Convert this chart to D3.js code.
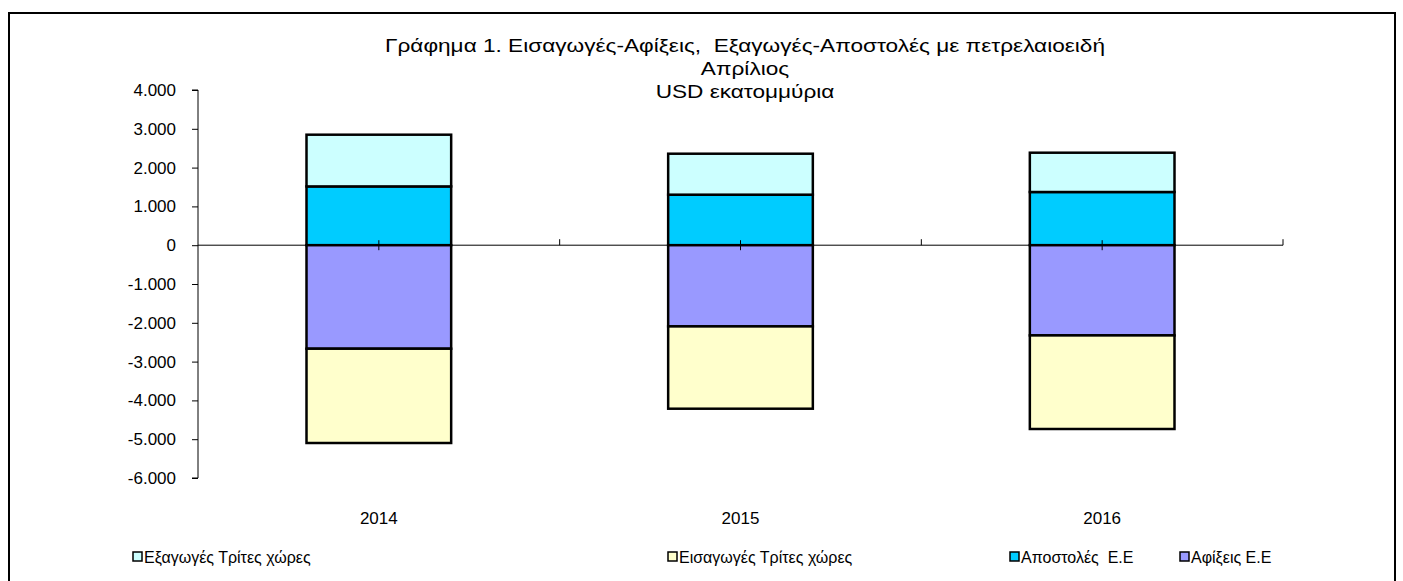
<!DOCTYPE html>
<html>
<head>
<meta charset="utf-8">
<script src="https://cdn.jsdelivr.net/npm/d3@7"></script>
<style>
  body { margin: 0; background: #fff; }
  text { font-family: "Liberation Sans", Arial, sans-serif; fill: #000; white-space: pre; }
</style>
</head>
<body>
<div id="chart"></div>
<script>
var svgWidth = 1403;
var svgHeight = 581;

// data (USD millions)
var years = ["2014", "2015", "2016"];
var exportsThird = [1333, 1056, 1013];   // Εξαγωγές Τρίτες χώρες
var importsThird = [-2430, -2121, -2412]; // Εισαγωγές Τρίτες χώρες
var dispatchesEU = [1515, 1302, 1371];   // Αποστολές Ε.Ε
var arrivalsEU = [-2668, -2093, -2325];  // Αφίξεις Ε.Ε
var yTicks = [4000, 3000, 2000, 1000, 0, -1000, -2000, -3000, -4000, -5000, -6000];
var titleLines = ["Γράφημα 1. Εισαγωγές-Αφίξεις,  Εξαγωγές-Αποστολές με πετρελαιοειδή", "Απρίλιος", "USD εκατομμύρια"];

var series = [
  { name: "Εξαγωγές Τρίτες χώρες", values: exportsThird, color: "#CCFFFF" },
  { name: "Εισαγωγές Τρίτες χώρες", values: importsThird, color: "#FFFFCC" },
  { name: "Αποστολές  Ε.Ε", values: dispatchesEU, color: "#00CCFF" },
  { name: "Αφίξεις Ε.Ε", values: arrivalsEU, color: "#9999FF" }
];

var plot = { left: 198, right: 1283, top: 90, bottom: 478 };

var svg = d3.select("#chart")
  .append("svg")
  .attr("width", svgWidth)
  .attr("height", svgHeight);

// outer frame
svg.append("path")
  .attr("d", "M9,590 L9,13 L1395,13 L1395,590")
  .attr("fill", "none")
  .attr("stroke", "#000")
  .attr("stroke-width", 2);

// title (text in the original is a bit wide, so stretch it horizontally)
svg.append("g").selectAll("text")
  .data(titleLines).enter()
  .append("text")
  .attr("transform", (d, i) => `translate(745,${52 + i * 23}) scale(1.19,1)`)
  .attr("text-anchor", "middle")
  .style("font-size", "19px")
  .text(d => d);

var x = d3.scaleBand()
  .domain(years)
  .range([plot.left, plot.right])
  .paddingInner(0.6)
  .paddingOuter(0.3);

var y = d3.scaleLinear()
  .domain([-6000, 4000])
  .range([plot.bottom, plot.top]);

// stack: positives from zero upward, negatives from zero downward
var stackOrder = [dispatchesEU, exportsThird, arrivalsEU, importsThird];
var colorOf = new Map(series.map(s => [s.values, s.color]));
var segs = [];
years.forEach(function(yr, i) {
  var pos = 0, neg = 0;
  stackOrder.forEach(function(vals) {
    var v = vals[i];
    if (v >= 0) { segs.push({ yr: yr, y0: pos, y1: pos + v, color: colorOf.get(vals) }); pos += v; }
    else { segs.push({ yr: yr, y0: neg, y1: neg + v, color: colorOf.get(vals) }); neg += v; }
  });
});

svg.append("g").selectAll("rect")
  .data(segs).enter()
  .append("rect")
  .attr("x", d => x(d.yr))
  .attr("width", x.bandwidth())
  .attr("y", d => y(Math.max(d.y0, d.y1)))
  .attr("height", d => Math.abs(y(d.y0) - y(d.y1)))
  .attr("fill", d => d.color)
  .attr("stroke", "#000")
  .attr("stroke-width", 2.5);

// y axis
var yAxis = svg.append("g")
  .attr("transform", `translate(${plot.left},0)`)
  .call(d3.axisLeft(y).tickValues(yTicks).tickSize(6).tickPadding(16)
    .tickFormat(d => d3.format(",")(d).replace(/,/g, ".").replace("−", "-")));
yAxis.select(".domain").attr("stroke", "#000").attr("d", `M-6,${plot.top}H0V${plot.bottom}H-6`);
yAxis.selectAll("text").style("font-size", "17px").style("font-family", "'Liberation Sans', Arial, sans-serif").attr("fill", "#000");

// x axis along zero
var band = (plot.right - plot.left) / years.length;
var xg = svg.append("g");
xg.append("line")
  .attr("x1", plot.left).attr("x2", plot.right)
  .attr("y1", y(0)).attr("y2", y(0))
  .attr("stroke", "#000");
xg.selectAll(".bt")
  .data(d3.range(1, years.length + 1)).enter()
  .append("line")
  .attr("x1", d => plot.left + d * band).attr("x2", d => plot.left + d * band)
  .attr("y1", y(0) - 6).attr("y2", y(0))
  .attr("stroke", "#000");
xg.selectAll(".ct")
  .data(years).enter()
  .append("line")
  .attr("x1", d => x(d) + x.bandwidth() / 2).attr("x2", d => x(d) + x.bandwidth() / 2)
  .attr("y1", y(0) - 5).attr("y2", y(0) + 5)
  .attr("stroke", "#000");

// category labels
svg.append("g").selectAll("text")
  .data(years).enter()
  .append("text")
  .attr("x", d => x(d) + x.bandwidth() / 2)
  .attr("y", 524)
  .attr("text-anchor", "middle")
  .style("font-size", "17px")
  .text(d => d);

// legend
var legendX = [133, 668, 1010, 1180];
var legend = svg.append("g").selectAll("g")
  .data(series).enter()
  .append("g")
  .attr("transform", (d, i) => `translate(${legendX[i]},557)`);
legend.append("rect")
  .attr("x", 0).attr("y", -5)
  .attr("width", 9).attr("height", 9)
  .attr("fill", d => d.color)
  .attr("stroke", "#000")
  .attr("stroke-width", 1.5);
legend.append("text")
  .attr("x", 11)
  .attr("y", 6)
  .style("font-size", "16px")
  .text(d => d.name);
</script>
</body>
</html>
